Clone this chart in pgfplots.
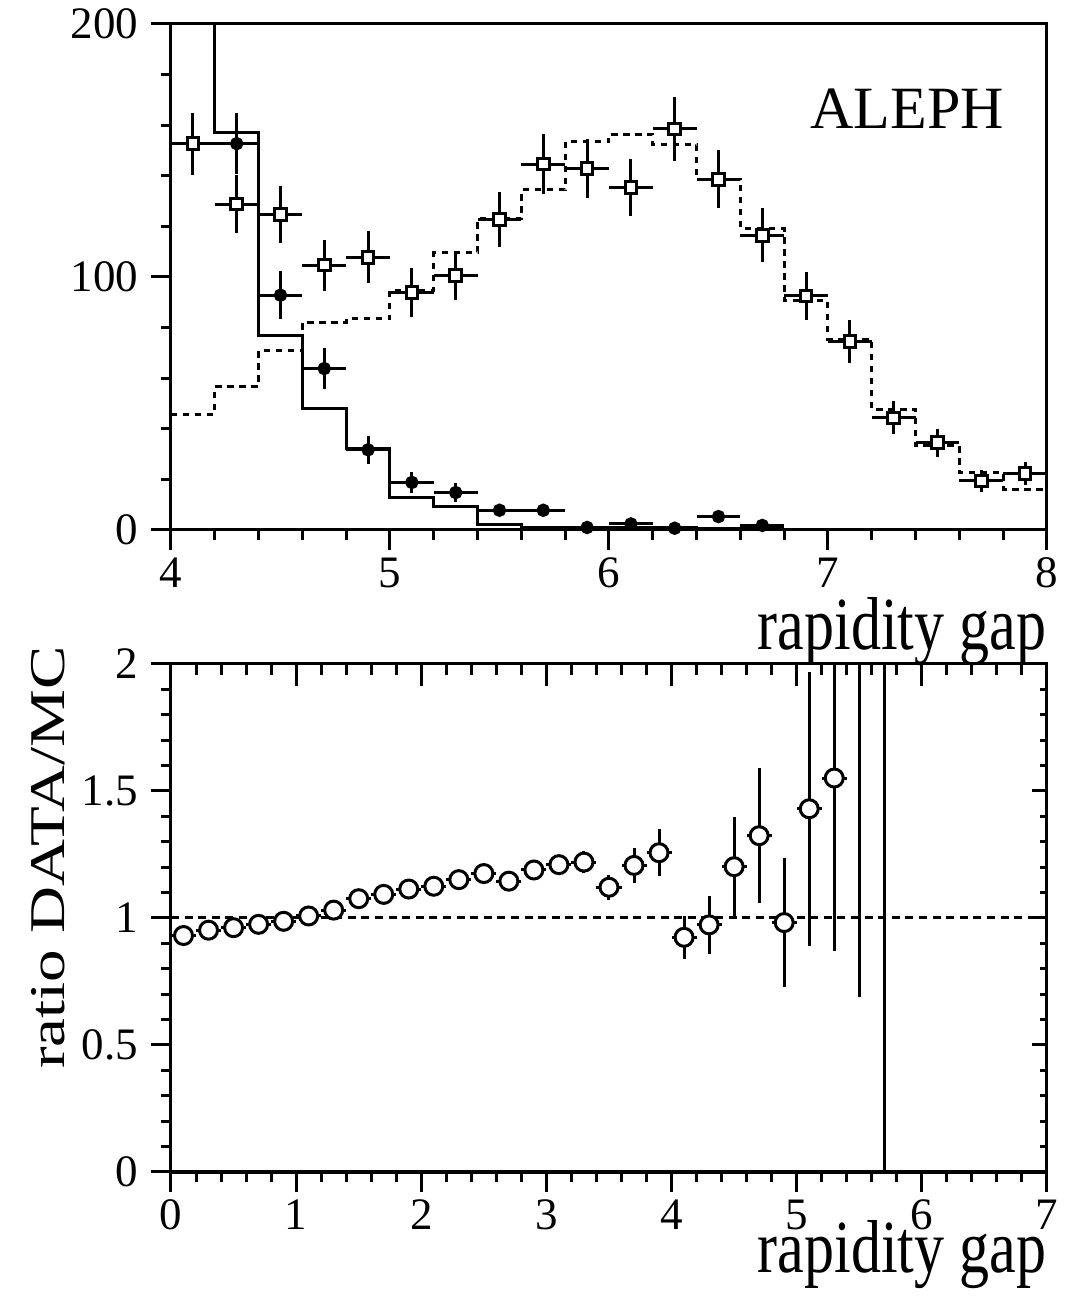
\documentclass[border=0pt]{standalone}
\usepackage{fontspec}
\setmainfont{Liberation Serif}
\usepackage{graphicx}
\usepackage{pgfplots}
\usepackage{pgfplotstable}
\pgfplotsset{compat=1.18}

\pgfplotstableread{
x y ey
4.1 152.7 12.2
4.3 128.8 11.4
4.5 124.7 11.1
4.7 104.7 10.1
4.9 107.8 10.2
5.1 93.9 9.7
5.3 100.6 9.7
5.5 122.7 11.0
5.7 144.6 11.8
5.9 142.9 11.8
6.1 135.4 11.4
6.3 158.5 12.5
6.5 138.6 11.5
6.7 116.5 10.7
6.9 92.5 9.5
7.1 74.4 8.5
7.3 44.3 6.5
7.5 34.5 5.5
7.7 19.4 4.3
7.9 22.4 4.6
}\squares

\pgfplotstableread{
x y ey
4.3 152.7 12.0
4.5 92.8 9.5
4.7 63.8 8.0
4.9 31.7 5.6
5.1 18.8 4.2
5.3 14.8 3.9
5.5 7.8 2.0
5.7 7.8 2.0
5.9 1.0 1.0
6.1 2.4 1.2
6.3 0.7 0.8
6.5 5.3 1.8
6.7 1.8 1.1
}\dots

\pgfplotstableread{
x y ey
0.1 0.931 0.010
0.3 0.952 0.010
0.5 0.962 0.010
0.7 0.975 0.012
0.9 0.987 0.012
1.1 1.008 0.014
1.3 1.031 0.015
1.5 1.076 0.016
1.7 1.093 0.018
1.9 1.114 0.020
2.1 1.125 0.022
2.3 1.151 0.024
2.5 1.175 0.027
2.7 1.145 0.030
2.9 1.189 0.033
3.1 1.210 0.037
3.3 1.220 0.042
3.5 1.121 0.050
3.7 1.207 0.070
3.9 1.257 0.092
4.1 0.924 0.085
4.3 0.973 0.114
4.5 1.202 0.195
4.7 1.324 0.265
4.9 0.982 0.254
5.1 1.430 0.540
5.3 1.551 0.680
}\ratio

\pgfplotstableread{
x y ey
5.5 2.6 1.91
5.7 3.0 3.50
}\ratiooff

\pgfplotsset{
  common/.style={
    scale only axis, width=219pt,
    axis line style={line width=0.75pt},
    every tick/.style={black, line width=0.75pt},
    tick label style={font=\fontsize{11.25}{13}\selectfont},
    /pgf/number format/assume math mode=true,
    xticklabel style={inner sep=0pt, anchor=north, yshift=-1.75pt},
    yticklabel style={inner sep=0pt, anchor=east, xshift=-3pt},
  },
  xlab/.style={
    xlabel style={font=\fontsize{15}{18}\selectfont, at={(axis description cs:1,0)},
      anchor=base east, inner sep=0pt, yshift=-#1},
  },
  overlay/.style={
    common, at={(0,0)}, anchor=south west, height=127pt,
    xmin=0, xmax=7, ymin=0, ymax=2,
    xticklabels={}, yticklabels={},
    xticklabel style={text opacity=0}, yticklabel style={text opacity=0},
  },
}

\begin{document}
\begin{tikzpicture}
\useasboundingbox (-42.75pt,-31pt) rectangle (223.25pt,293pt);

% ---------- top panel ----------
\begin{axis}[common, at={(0,160.5pt)}, anchor=south west, height=126.5pt,
  xmin=4, xmax=8, ymin=0, ymax=200,
  xtick={4,5,6,7,8}, minor x tick num=4,
  ytick={0,100,200}, minor y tick num=4,
  xtick pos=bottom, ytick pos=left, tick align=outside,
  major tick length=5pt, minor tick length=2.5pt,
  xlabel={\scalebox{1}[1.25]{rapidity gap}}, xlab=30pt]
\addplot[black, line width=0.75pt, const plot mark left, mark=none] coordinates {
 (4.0,250) (4.2,157) (4.4,77) (4.6,48) (4.8,32.4) (5.0,13) (5.2,9.2) (5.4,2)
 (5.6,1) (5.8,0.8) (6.0,0.8) (6.2,0.8) (6.4,0.5) (6.6,0.5) (6.8,0.5)};
\addplot[black, line width=0.75pt, dash pattern=on 1.6pt off 1.4pt, const plot mark left, mark=none] coordinates {
 (4.0,45.8) (4.2,56.7) (4.4,70.8) (4.6,82) (4.8,83.5) (5.0,94.8) (5.2,109.6) (5.4,123)
 (5.6,134.4) (5.8,153.5) (6.0,156.4) (6.2,152.2) (6.4,138.7) (6.6,119) (6.8,90.6)
 (7.0,75.4) (7.2,47.7) (7.4,33.2) (7.6,22.7) (7.8,16.1) (8.0,16.1)};
\addplot[black, line width=0.75pt, only marks, mark=*, mark size=1.3pt,
  error bars/.cd, x dir=both, x fixed=0.1, y dir=both, y explicit, error mark=none,
  error bar style={line width=0.75pt}]
  table[x=x, y=y, y error=ey] {\dots};
\addplot[black, line width=0.75pt, only marks, mark=square*, mark size=1.45pt,
  mark options={fill=white, solid},
  error bars/.cd, x dir=both, x fixed=0.1, y dir=both, y explicit, error mark=none,
  error bar style={line width=0.75pt}]
  table[x=x, y=y, y error=ey] {\squares};
\node[anchor=base west, inner sep=0pt, font=\fontsize{15}{18}\selectfont]
  at (rel axis cs:0.729,0.794) {ALEPH};
\end{axis}

% ---------- bottom panel ----------
\begin{axis}[common, at={(0,0)}, anchor=south west, height=127pt,
  xmin=0, xmax=7, ymin=0, ymax=2,
  xtick={0,1,2,3,4,5,6,7}, minor x tick num=4,
  ytick={0,0.5,1,1.5,2}, minor y tick num=4,
  xtick pos=bottom, ytick pos=left, tick align=outside,
  major tick length=5pt, minor tick length=2.5pt,
  xlabel={\scalebox{1}[1.25]{rapidity gap}}, xlab=25.25pt,
  ylabel={\scalebox{1.3}[1]{ratio DATA/MC}},
  ylabel style={font=\fontsize{12.5}{15}\selectfont, at={(axis description cs:-0.121,0.619)},
    anchor=base, inner sep=0pt}]
\addplot[black, line width=0.75pt, dash pattern=on 2pt off 1.4pt, mark=none] coordinates {(0,1) (7,1)};
\addplot[black, line width=0.75pt, only marks, mark=none,
  error bars/.cd, y dir=both, y explicit, error mark=none,
  error bar style={line width=0.75pt}]
  table[x=x, y=y, y error=ey] {\ratiooff};
\addplot[black, line width=0.75pt, only marks, mark=*, mark size=2.25pt,
  mark options={fill=white, draw=black, solid},
  error bars/.cd, x dir=both, x fixed=0.1, y dir=both, y explicit, error mark=none,
  error bar style={line width=0.75pt}]
  table[x=x, y=y, y error=ey] {\ratio};
\end{axis}
\begin{axis}[overlay,
  xtick={0,1,2,3,4,5,6,7}, minor x tick num=4, ytick=\empty,
  xtick pos=top, tick align=inside,
  major tick length=5.5pt, minor tick length=2.75pt]
\end{axis}
\begin{axis}[overlay,
  xtick=\empty, ytick={0,0.5,1,1.5,2}, minor y tick num=4,
  ytick pos=right, tick align=inside,
  major tick length=3.75pt, minor tick length=1.75pt]
\end{axis}
\end{tikzpicture}
\end{document}
